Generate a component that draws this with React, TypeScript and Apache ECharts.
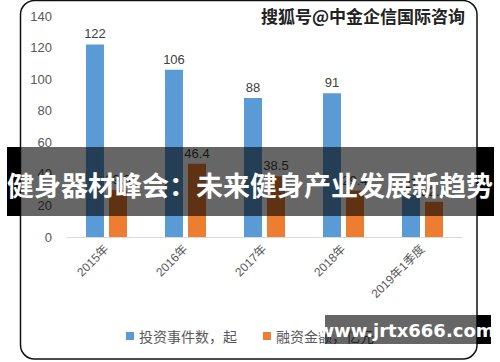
import React, { useEffect, useRef } from "react";
import * as echarts from "echarts";

const categories = ["2015年", "2016年", "2017年", "2018年", "2019年1季度"];
const investEvents = [122, 106, 88, 91, 27];
const financing = [29.8, 46.4, 38.5, 29.4, 22.3];
const seriesNames = ["投资事件数，起", "融资金额，亿元"];
const bannerText = "健身器材峰会：未来健身产业发展新趋势";
const topMark = "搜狐号@中金企信国际咨询";
const bottomMark = "www.jrtx666.com";

const FONT = "'Liberation Sans', 'Noto Sans CJK SC', sans-serif";
const CJK = "'Noto Sans CJK SC', sans-serif";

export default function App() {
  const ref = useRef<HTMLDivElement>(null);
  useEffect(() => {
    if (!ref.current) return;
    const chart = echarts.init(ref.current, null, { renderer: "svg" });
    const labelStyle = {
      show: true,
      position: "top" as const,
      distance: 4,
      color: "#404040",
      fontSize: 13,
      fontFamily: FONT,
    };
    chart.setOption({
      animation: false,
      backgroundColor: "#ffffff",
      grid: { left: 67, right: 38, top: 16, bottom: 125 },
      legend: {
        bottom: 14,
        left: "center",
        icon: "rect",
        itemWidth: 8,
        itemHeight: 8,
        itemGap: 26,
        textStyle: { color: "#595959", fontSize: 14, fontFamily: CJK },
        data: seriesNames,
      },
      xAxis: {
        type: "category",
        data: categories,
        axisLine: { lineStyle: { color: "#d9d9d9", width: 1 } },
        axisTick: { show: false },
        axisLabel: {
          rotate: 45,
          color: "#595959",
          fontSize: 12,
          fontFamily: FONT,
          margin: 10,
        },
      },
      yAxis: {
        type: "value",
        min: 0,
        max: 140,
        interval: 20,
        splitLine: { show: false },
        axisLine: { show: false },
        axisTick: { show: false },
        axisLabel: { color: "#595959", fontSize: 13, fontFamily: FONT, margin: 15 },
      },
      series: [
        {
          name: seriesNames[0],
          type: "bar",
          data: investEvents,
          barWidth: 18,
          barGap: "28%",
          itemStyle: { color: "#5B9BD5" },
          label: labelStyle,
        },
        {
          name: seriesNames[1],
          type: "bar",
          data: financing,
          barWidth: 18,
          itemStyle: { color: "#ED7D31" },
          label: labelStyle,
        },
      ],
      graphic: [
        {
          type: "rect",
          z: 100,
          shape: { x: 20.5, y: 0.5, width: 456.5, height: 358.5, r: 14 },
          style: { fill: "none", stroke: "#111", lineWidth: 1.5 },
        },
        {
          type: "text",
          z: 101,
          x: 363,
          y: 15,
          style: {
            text: topMark,
            fontSize: 17,
            fontWeight: "bold",
            fontFamily: CJK,
            fill: "#222",
            stroke: "#fff",
            lineWidth: 2,
            align: "center",
            verticalAlign: "middle",
          },
        },
        {
          type: "rect",
          z: 110,
          shape: { x: 7, y: 147, width: 13, height: 69 },
          style: { fill: "#000" },
        },
        {
          type: "rect",
          z: 110,
          shape: { x: 20, y: 147, width: 457, height: 69 },
          style: { fill: "rgba(0,0,0,0.6)" },
        },
        {
          type: "rect",
          z: 110,
          shape: { x: 477, y: 147, width: 17, height: 69 },
          style: { fill: "#000" },
        },
        {
          type: "text",
          z: 111,
          x: 250,
          y: 184,
          style: {
            text: bannerText,
            fontSize: 27,
            fontWeight: "bold",
            fontFamily: CJK,
            fill: "#fff",
            align: "center",
            verticalAlign: "middle",
          },
        },
        {
          type: "rect",
          z: 110,
          shape: { x: 325, y: 315, width: 152, height: 29 },
          style: { fill: "rgba(0,0,0,0.6)" },
        },
        {
          type: "rect",
          z: 110,
          shape: { x: 477, y: 315, width: 14, height: 29 },
          style: { fill: "#000" },
        },
        {
          type: "text",
          z: 111,
          x: 406,
          y: 330,
          style: {
            text: bottomMark,
            fontSize: 18,
            fontWeight: "bold",
            fontFamily: "'DejaVu Sans', sans-serif",
            fill: "#fff",
            align: "center",
            verticalAlign: "middle",
          },
        },
      ],
    });
    return () => chart.dispose();
  }, []);
  return (
    <div
      ref={ref}
      style={{ position: "fixed", left: 0, top: 0, width: 500, height: 362 }}
    />
  );
}
